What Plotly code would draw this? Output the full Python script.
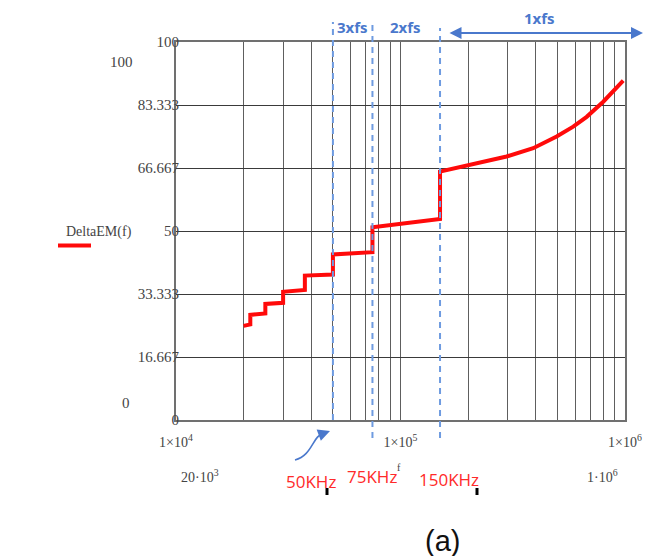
import math
import plotly.graph_objects as go

# ---- data ----
freq_khz = [20, 21.43, 21.43, 25, 25, 30, 30, 37.5, 37.5, 50, 50, 75, 75, 150, 150,
            203.6, 250, 296.9, 390, 496, 588, 675, 800, 982]
delta_em = [24.9, 25.3, 27.8, 28.2, 30.7, 31.0, 33.9, 34.4, 38.2, 38.5, 43.8, 44.4, 51.0, 53.2, 65.7,
            67.5, 68.6, 69.7, 71.9, 75.0, 77.6, 80.2, 84.2, 89.8]

y_tick_vals = [0, 16.667, 33.333, 50, 66.667, 83.333, 100]
y_tick_text = ["0", "16.667", "33.333", "50", "66.667", "83.333", "100"]

x_decades = [1e4, 1e5, 1e6]
x_decade_text = ["1×10<sup>4</sup>", "1×10<sup>5</sup>", "1×10<sup>6</sup>"]

marker_freqs_khz = [50, 75, 150]
marker_labels = ["50KHz", "75KHz", "150KHz"]
fs_labels = ["3xfs", "2xfs", "1xfs"]

# ---- figure geometry (page pixels; the page body has an 8px margin) ----
W, H = 664, 556
OFF = 8
PL, PR, PT, PB = 176, 625, 42, 420          # plot box in page pixels
L, T = PL - OFF, PT - OFF
R, B = W - (PR - OFF), H - (PB - OFF)
PW, PH = PR - PL, PB - PT


def px(x):
    return (x - PL) / PW


def py(y):
    return (PB - y) / PH


freq_hz = [f * 1000 for f in freq_khz]

minor_vals = [k * 10 ** e for e in (4, 5) for k in range(2, 10)]

fig = go.Figure()
fig.add_trace(go.Scatter(x=freq_hz, y=delta_em, mode="lines",
                         line=dict(color="#ff0a0a", width=4), showlegend=False,
                         hoverinfo="skip"))

serif = "Liberation Serif"
blue = "#4a78cc"
dash_blue = "#6e9be0"

shapes = []
# dashed vertical lines at the 3 frequencies
dash_tops = [22, 24, 28]
dash_bots = [420, 438, 438]
for f, t, b in zip(marker_freqs_khz, dash_tops, dash_bots):
    shapes.append(dict(type="line", xref="x", yref="paper", x0=f * 1000, x1=f * 1000,
                       y0=py(b), y1=py(t), line=dict(color=dash_blue, width=2, dash="6px,5px")))
# legend line
shapes.append(dict(type="line", xref="paper", yref="paper", x0=px(58), x1=px(91),
                   y0=py(245.5), y1=py(245.5), line=dict(color="#ff0a0a", width=4)))
# curved blue arrow
shapes.append(dict(type="path", xref="paper", yref="paper",
                   path=f"M {px(295)},{py(460)} C {px(313)},{py(455)} {px(312)},{py(436)} {px(324)},{py(433)}",
                   line=dict(color=blue, width=1.6)))
# small black marks
for cx in (327, 477):
    shapes.append(dict(type="rect", xref="paper", yref="paper", x0=px(cx - 1.5), x1=px(cx + 1.5),
                       y0=py(495), y1=py(488), fillcolor="black", line=dict(width=0)))

ann = []


def text(x, y, s, size, color="#444", family=serif, bold=False, xanchor="center"):
    ann.append(dict(xref="paper", yref="paper", x=px(x), y=py(y), text=f"<b>{s}</b>" if bold else s,
                    showarrow=False, xanchor=xanchor, yanchor="middle",
                    font=dict(size=size, color=color, family=family)))


text(121, 62, "100", 15)
text(126, 403, "0", 15)
text(99, 232, "DeltaEM(f)", 14)
text(200, 476, "20·10<sup>3</sup>", 14)
text(602, 476, "1·10<sup>6</sup>", 14)
text(399, 467, "f", 10)
for xc, yc, s in zip([311, 372, 449], [481, 476, 480], marker_labels):
    text(xc, yc, s, 17, color="#ff2a2a", family="Open Sans")
for xc, yc, s in zip([352, 405, 539], [27, 27, 18], fs_labels):
    text(xc, yc, s, 15, color=blue, family="Open Sans", bold=True)
text(442, 541, "(a)", 29, color="#111", family="Liberation Sans")

# double arrow for 1xfs
ann.append(dict(xref="paper", yref="paper", axref="pixel", ayref="pixel",
                x=px(643), y=py(33), ax=448 - 643, ay=0, text="", showarrow=True,
                arrowside="end+start", arrowhead=2, arrowsize=1.2, arrowwidth=2, arrowcolor=blue))
# arrow head of curved arrow
ann.append(dict(xref="paper", yref="paper", axref="pixel", ayref="pixel",
                x=px(330), y=py(431), ax=-8, ay=3, text="", showarrow=True,
                arrowhead=2, arrowsize=1.2, arrowwidth=2, arrowcolor=blue))

fig.update_layout(
    width=W, height=H, margin=dict(l=L, r=R, t=T, b=B),
    paper_bgcolor="white", plot_bgcolor="white",
    shapes=shapes, annotations=ann, showlegend=False,
    xaxis=dict(type="log", range=[4, 6], tickmode="array", tickvals=x_decades, ticktext=x_decade_text,
               showgrid=True, gridcolor="#5e5e5e", gridwidth=1.3, ticks="",
               minor=dict(tickmode="array", tickvals=minor_vals, showgrid=True,
                          gridcolor="#5e5e5e", gridwidth=1.3, ticks=""),
               showline=True, linecolor="#707070", linewidth=2, mirror=True,
               ticklabelstandoff=8,
               tickfont=dict(family=serif, size=14, color="#444")),
    yaxis=dict(range=[0, 100], tickmode="array", tickvals=y_tick_vals, ticktext=y_tick_text,
               showgrid=True, gridcolor="#3a3a3a", gridwidth=1.2, zeroline=False, ticks="",
               showline=True, linecolor="#707070", linewidth=2, mirror=True,
               ticklabelstandoff=-8,
               tickfont=dict(family=serif, size=15, color="#444")),
)

fig.write_html("out.html")
